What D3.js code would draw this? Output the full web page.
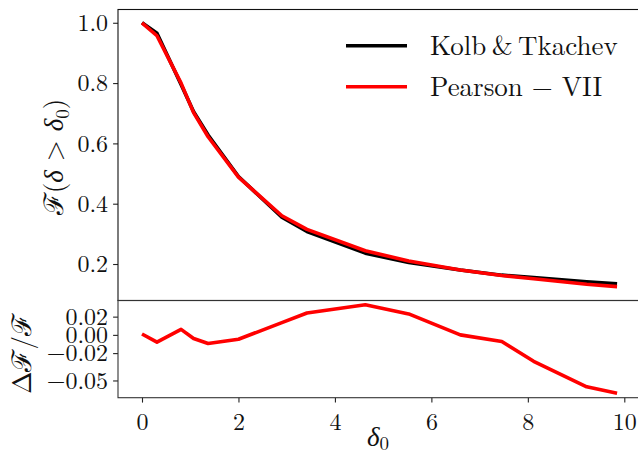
<!DOCTYPE html>
<html>
<head>
<meta charset="utf-8">
<script src="https://cdn.jsdelivr.net/npm/d3@7/dist/d3.min.js"></script>
<style>
html,body{margin:0;padding:0;background:#fff;}
svg{display:block;}
</style>
</head>
<body>
<div id="chart"></div>
<script>
// ---- data ----
const delta0 = [0, 0.31, 0.81, 1.07, 1.37, 2.0, 2.9, 3.42, 4.63, 5.53, 6.6, 7.46, 8.12, 9.22, 9.85];
const kolbTkachev = [1.0, 0.965, 0.795, 0.705, 0.628, 0.49, 0.355, 0.308, 0.236, 0.205, 0.18, 0.163, 0.155, 0.141, 0.134];
const pearsonVII = [1.0, 0.957, 0.80, 0.702, 0.622, 0.488, 0.36, 0.315, 0.244, 0.21, 0.18, 0.162, 0.151, 0.133, 0.125];
const relDiff = [0.001, -0.008, 0.006, -0.004, -0.0095, -0.0048, 0.0134, 0.024, 0.033, 0.023, 0.0, -0.0073, -0.029, -0.057, -0.064];
const xTicks = [0, 2, 4, 6, 8, 10];
const topYTicks = [0.2, 0.4, 0.6, 0.8, 1.0];
const botYTicks = [0.02, 0.00, -0.02, -0.05];
const seriesNames = ["Kolb\u2009&\u2009Tkachev", "Pearson \u2212 VII"];

// ---- layout ----
const FONT = '"Latin Modern Roman","CMU Serif","Liberation Serif",serif';
const W = 638, H = 456;
const L = 118, R = 639;
const topT = 9.5, topB = 300.5;
const botT = 300.5, botB = 397.7;

const svg = d3.select("#chart").append("svg").attr("width", W).attr("height", H);

const x = d3.scaleLinear().domain([-0.4976, 10.284]).range([L, 638]);
const yTop = d3.scaleLinear().domain([0.079, 1.044]).range([topB, topT]);
const yBot = d3.scaleLinear().domain([-0.0689, 0.0377]).range([botB, botT]);

const fmtMinus = s => s.replace("-", "\u2212");

const gTopY = svg.append("g").attr("transform", `translate(${L},0)`)
  .call(d3.axisLeft(yTop).tickValues(topYTicks).tickFormat(d3.format(".1f")).tickSize(4.9).tickPadding(5));
const gBotY = svg.append("g").attr("transform", `translate(${L},0)`)
  .call(d3.axisLeft(yBot).tickValues(botYTicks).tickFormat(d => fmtMinus(d3.format(".2f")(d))).tickSize(4.9).tickPadding(5));
const gX = svg.append("g").attr("transform", `translate(0,${botB})`)
  .call(d3.axisBottom(x).tickValues(xTicks).tickFormat(d3.format("d")).tickSize(4.9).tickPadding(5));

[gTopY, gBotY, gX].forEach(g => {
  g.attr("font-family", FONT).attr("font-size", 24);
  g.select(".domain").remove();
  g.selectAll(".tick line").attr("stroke", "#222").attr("stroke-width", 1.1);
  g.selectAll(".tick text").attr("fill", "#111").attr("font-family", FONT).attr("font-size", 24);
});
gX.selectAll(".tick text").attr("dy", "0.95em");

// lines
const lineTop = (vals) => d3.line().x((d, i) => x(delta0[i])).y(d => yTop(d))(vals);
const lineBot = d3.line().x((d, i) => x(delta0[i])).y(d => yBot(d));

svg.append("path").attr("d", lineTop(kolbTkachev)).attr("fill", "none")
  .attr("stroke", "#000").attr("stroke-width", 3.6).attr("stroke-linejoin", "round");
svg.append("path").attr("d", lineTop(pearsonVII)).attr("fill", "none")
  .attr("stroke", "#ff0000").attr("stroke-width", 3.6).attr("stroke-linejoin", "round");
svg.append("path").attr("d", lineBot(relDiff)).attr("fill", "none")
  .attr("stroke", "#ff0000").attr("stroke-width", 3.6).attr("stroke-linejoin", "round");

// frames
svg.append("rect").attr("x", L).attr("y", topT).attr("width", R - L).attr("height", topB - topT)
  .attr("fill", "none").attr("stroke", "#111").attr("stroke-width", 1.1);
svg.append("rect").attr("x", L).attr("y", botT).attr("width", R - L).attr("height", botB - botT)
  .attr("fill", "none").attr("stroke", "#333").attr("stroke-width", 1.1);

// legend
const legColors = ["#000", "#ff0000"];
const legY = [45.7, 86.7];
seriesNames.forEach((name, i) => {
  svg.append("line").attr("x1", 346).attr("x2", 407).attr("y1", legY[i]).attr("y2", legY[i])
    .attr("stroke", legColors[i]).attr("stroke-width", 3.6);
  svg.append("text").attr("x", 430).attr("y", legY[i] + 9.5)
    .attr("font-family", FONT).attr("font-size", 27).attr("fill", "#111").text(name);
});

// axis labels
const yl = svg.append("text").attr("transform", `translate(63,157) rotate(-90)`)
  .attr("text-anchor", "middle").attr("font-family", FONT).attr("font-size", 27).attr("fill", "#111");
yl.append("tspan").text("\u2131(");
yl.append("tspan").attr("font-style", "italic").text("\u03b4");
yl.append("tspan").text(" > ");
yl.append("tspan").attr("font-style", "italic").text("\u03b4");
yl.append("tspan").attr("dy", 6).attr("font-size", 19).text("0");
yl.append("tspan").attr("dy", -6).text(")");

const yl2 = svg.append("text").attr("transform", `translate(31,354) rotate(-90)`)
  .attr("text-anchor", "middle").attr("font-family", FONT).attr("font-size", 27).attr("fill", "#111");
yl2.append("tspan").text("\u0394\u2131/\u2131");

const xl = svg.append("text").attr("x", 378).attr("y", 446).attr("text-anchor", "middle")
  .attr("font-family", FONT).attr("font-size", 27).attr("fill", "#111");
xl.append("tspan").attr("font-style", "italic").text("\u03b4");
xl.append("tspan").attr("dy", 4).attr("font-size", 19).text("0");
</script>
</body>
</html>
